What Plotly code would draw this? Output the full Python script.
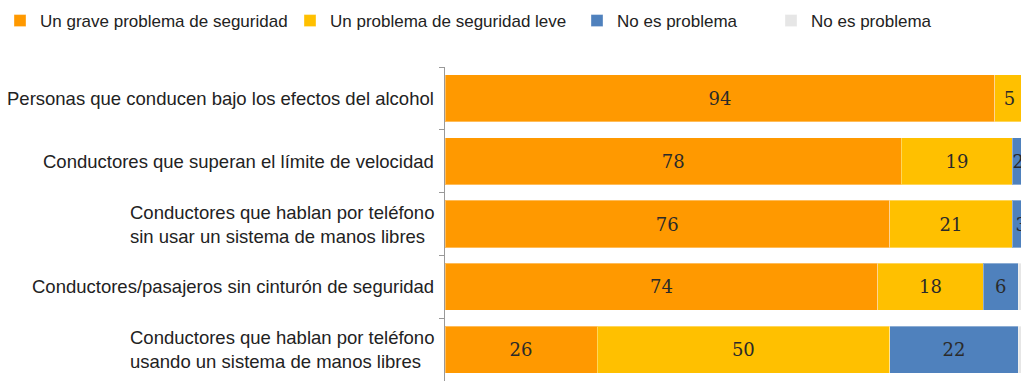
import plotly.graph_objects as go

categories = [
    "Personas que conducen bajo los efectos del alcohol",
    "Conductores que superan el límite de velocidad",
    "Conductores que hablan por teléfono<br>sin usar un sistema de manos libres",
    "Conductores/pasajeros sin cinturón de seguridad",
    "Conductores que hablan por teléfono<br>usando un sistema de manos libres",
]

grave = [94, 78, 76, 74, 26]
leve = [5, 19, 21, 18, 50]
no_problema = [0, 2, 3, 6, 22]
no_problema_2 = [1, 1, 0, 2, 2]

series_names = [
    "Un grave problema de seguridad",
    "Un problema de seguridad leve",
    "No es problema",
    "No es problema",
]
series_values = [grave, leve, no_problema, no_problema_2]
series_colors = ["#FF9900", "#FFC000", "#4F81BD", "#E6E6E6"]
show_labels = [True, True, True, False]
legend_widths = [245, 242, 149, 130]

fig = go.Figure()
for name, vals, color, labelled, lw in zip(series_names, series_values, series_colors,
                                          show_labels, legend_widths):
    fig.add_trace(go.Bar(
        y=categories,
        x=vals,
        name=name,
        orientation="h",
        marker=dict(color=color, line=dict(width=1, color="rgba(255,255,255,0.35)")),
        text=[str(v) if (labelled and v > 0) else "" for v in vals],
        textposition="inside",
        insidetextanchor="middle",
        textfont=dict(family="DejaVu Serif", size=18, color="#2a2a2a"),
        legendwidth=lw,
        hoverinfo="skip",
    ))

# category labels: left-aligned text blocks sitting just left of the axis
for cat in categories:
    fig.add_annotation(
        x=0, xref="paper", xanchor="right", xshift=-9,
        y=cat, yref="y", yanchor="middle",
        text=cat, align="left", showarrow=False,
        font=dict(size=18.5, color="#222222"),
    )

# plot area spans 445..1021 px horizontally and 67..381 px vertically
plot_w = 1021 - 445
plot_h = 381 - 67

fig.update_layout(
    width=1021,
    height=381,
    barmode="stack",
    bargap=0.25,
    plot_bgcolor="white",
    paper_bgcolor="white",
    margin=dict(l=445, r=0, t=67, b=0, pad=0),
    uniformtext=dict(minsize=18, mode="show"),
    font=dict(family="Liberation Sans, Arial, sans-serif", color="#222222"),
    legend=dict(
        orientation="h",
        xref="paper", yref="paper",
        x=-445 / plot_w, y=1 + 64 / plot_h,
        xanchor="left", yanchor="top",
        font=dict(size=17, color="#222222"),
        traceorder="normal",
        itemclick=False,
        bgcolor="rgba(0,0,0,0)",
    ),
    xaxis=dict(
        range=[0, 98.46],
        visible=False,
        fixedrange=True,
    ),
    yaxis=dict(
        autorange="reversed",
        showline=True,
        linecolor="#999999",
        linewidth=1,
        ticks="outside",
        tickson="boundaries",
        ticklen=5,
        tickcolor="#999999",
        showticklabels=False,
        showgrid=False,
        fixedrange=True,
    ),
)

fig.write_html("out.html")
